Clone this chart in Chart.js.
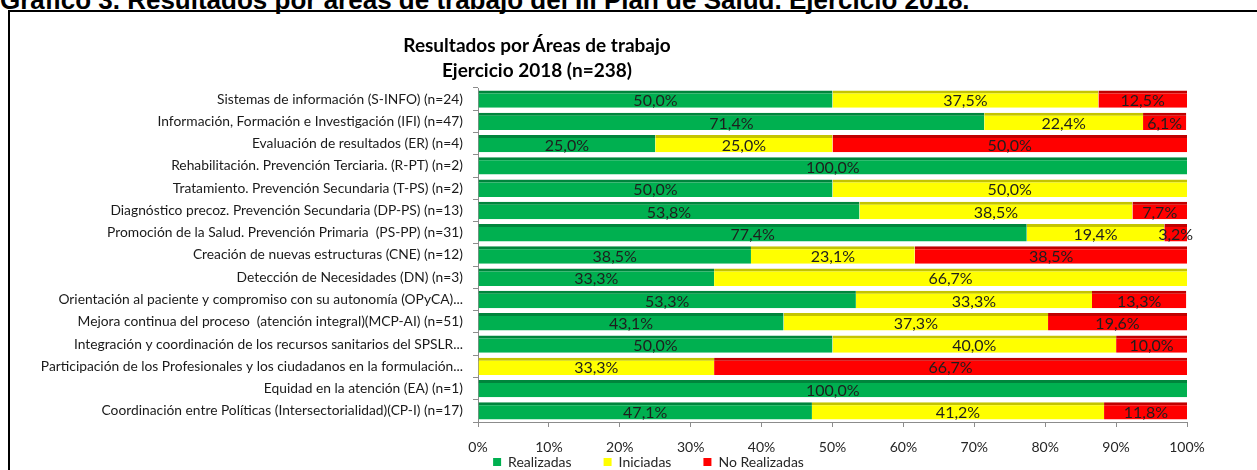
<!DOCTYPE html>
<html lang="es">
<head>
<meta charset="UTF-8">
<title>Resultados por Áreas de trabajo</title>
<script src="https://cdn.jsdelivr.net/npm/chart.js@4.4.1/dist/chart.umd.min.js"></script>
<style>
    html, body { margin: 0; padding: 0; background: #fff; overflow: hidden; }
    .page { position: relative; width: 1257px; height: 470px; overflow: hidden; }
    .heading {
        position: absolute; left: 0; top: -15px; line-height: 26px;
        font: bold 26px "Liberation Sans", Arial, sans-serif; white-space: nowrap; color: #000;
    }
    .frame { position: absolute; left: 8px; top: 10px; width: 1400px; height: 600px; border: 2px solid #000; }
    .chart-title {
        position: absolute; left: 337px; width: 400px; top: 32px; text-align: center;
        font: bold 19px Lato, sans-serif; line-height: 25px; color: #000;
    }
    #chart { position: absolute; left: 0; top: 0; }
</style>
</head>
<body>
<div class="page">
    <div class="heading">Gráfico 3. Resultados por áreas de trabajo del III Plan de Salud. Ejercicio 2018.</div>
    <div class="frame"></div>
    <canvas id="chart" width="1257" height="513"></canvas>
    <div class="chart-title">Resultados por Áreas de trabajo<br>Ejercicio 2018 (n=238)</div>
</div>

<script>
    const categories = [
        'Sistemas de información (S-INFO) (n=24)',
        'Información, Formación e Investigación (IFI) (n=47)',
        'Evaluación de resultados (ER) (n=4)',
        'Rehabilitación. Prevención Terciaria. (R-PT) (n=2)',
        'Tratamiento. Prevención Secundaria (T-PS) (n=2)',
        'Diagnóstico precoz. Prevención Secundaria (DP-PS) (n=13)',
        'Promoción de la Salud. Prevención Primaria  (PS-PP) (n=31)',
        'Creación de nuevas estructuras (CNE) (n=12)',
        'Detección de Necesidades (DN) (n=3)',
        'Orientación al paciente y compromiso con su autonomía (OPyCA)...',
        'Mejora continua del proceso  (atención integral)(MCP-AI) (n=51)',
        'Integración y coordinación de los recursos sanitarios del SPSLR...',
        'Participación de los Profesionales y los ciudadanos en la formulación...',
        'Equidad en la atención (EA) (n=1)',
        'Coordinación entre Políticas (Intersectorialidad)(CP-I) (n=17)'
    ];
    const seriesNames = ['Realizadas', 'Iniciadas', 'No Realizadas'];
    const realizadas   = [50.0, 71.4, 25.0, 100.0, 50.0, 53.8, 77.4, 38.5, 33.3, 53.3, 43.1, 50.0, 0, 100.0, 47.1];
    const iniciadas    = [37.5, 22.4, 25.0, 0, 50.0, 38.5, 19.4, 23.1, 66.7, 33.3, 37.3, 40.0, 33.3, 0, 41.2];
    const noRealizadas = [12.5, 6.1, 50.0, 0, 0, 7.7, 3.2, 38.5, 0, 13.3, 19.6, 10.0, 66.7, 0, 11.8];
    const xTickLabels = ['0%', '10%', '20%', '30%', '40%', '50%', '60%', '70%', '80%', '90%', '100%'];

    const FONT = 'Lato, sans-serif';

    // value labels in the middle of each segment
    const barLabels = {
        id: 'barLabels',
        afterDatasetsDraw(chart) {
            const ctx = chart.ctx;
            ctx.save();
            ctx.font = '16px ' + FONT;
            ctx.fillStyle = '#1e1e1e';
            ctx.textAlign = 'center';
            ctx.textBaseline = 'middle';
            chart.data.datasets.forEach((ds, i) => {
                chart.getDatasetMeta(i).data.forEach((bar, j) => {
                    const v = ds.data[j];
                    if (!v) return;
                    ctx.fillText(v.toFixed(1).replace('.', ',') + '%', (bar.x + bar.base) / 2, bar.y + 2);
                });
            });
            ctx.restore();
        }
    };

    // legend sits tight under the tick labels, a bit right of centre (like the excel one)
    const legendPlace = {
        id: 'legendPlace',
        afterLayout(chart) {
            const lg = chart.legend;
            const dx = 50, dy = 423 - lg.top;
            lg.left += dx; lg.right += dx;
            lg.top += dy; lg.bottom += dy;
        }
    };

    const bar = (label, data, color, edge) => ({
        label, data,
        backgroundColor: color,
        borderColor: edge,
        borderWidth: { top: 3, right: 0, bottom: 0, left: 0 },
        borderSkipped: false,
        categoryPercentage: 1,
        barPercentage: 0.78
    });

    new Chart(document.getElementById('chart'), {
        type: 'bar',
        data: {
            labels: categories,
            datasets: [
                bar(seriesNames[0], realizadas, '#00B050', '#00853C'),
                bar(seriesNames[1], iniciadas, '#FFFF00', '#C4C400'),
                bar(seriesNames[2], noRealizadas, '#FF0000', '#C00000')
            ]
        },
        options: {
            responsive: false,
            animation: false,
            indexAxis: 'y',
            layout: { padding: { left: 10, right: 70, top: 88, bottom: 0 } },
            scales: {
                x: {
                    stacked: true,
                    min: 0, max: 100,
                    afterFit: s => { s.height = 35; },
                    grid: { drawOnChartArea: false, tickLength: 5, color: '#8c8c8c' },
                    border: { color: '#8c8c8c' },
                    ticks: {
                        stepSize: 10, padding: 12, color: '#262626',
                        font: { family: FONT, size: 14 },
                        callback: (v, i) => xTickLabels[i]
                    }
                },
                y: {
                    stacked: true,
                    afterFit: s => { s.width = 478 - 10; },
                    grid: { drawOnChartArea: false, offset: true, tickLength: 5, color: '#8c8c8c' },
                    border: { color: '#8c8c8c' },
                    ticks: { padding: 10, color: '#1a1a1a', font: { family: FONT, size: 13.8 } }
                }
            },
            plugins: {
                legend: {
                    position: 'bottom',
                    labels: {
                        boxWidth: 8, boxHeight: 8, padding: 32, color: '#262626',
                        font: { family: FONT, size: 14 },
                        generateLabels: chart => Chart.defaults.plugins.legend.labels.generateLabels(chart)
                            .map(l => Object.assign(l, { lineWidth: 0 }))
                    }
                },
                tooltip: { enabled: false }
            }
        },
        plugins: [barLabels, legendPlace]
    });
</script>
</body>
</html>
